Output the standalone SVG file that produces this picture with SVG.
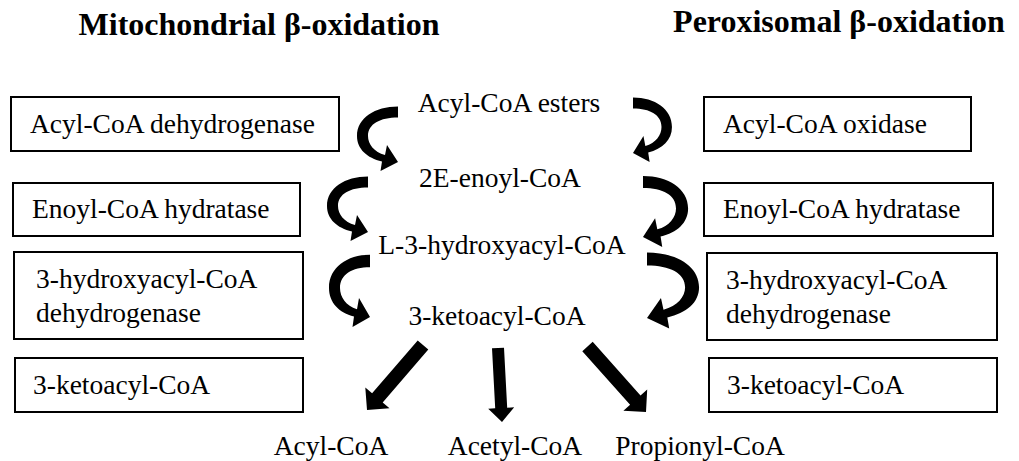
<svg xmlns="http://www.w3.org/2000/svg" xmlns:xlink="http://www.w3.org/1999/xlink" width="1019" height="461" viewBox="0 0 1019 461">
<style>
.t{font-family:"Liberation Serif","Times New Roman",serif;font-size:27.5px;fill:#000}
.c{text-anchor:middle}
.h{font-family:"Liberation Serif","Times New Roman",serif;font-size:32px;font-weight:bold;fill:#000;text-anchor:middle}
.box{fill:#fff;stroke:#000;stroke-width:2}
.ar{fill:#000}
</style>
<defs>
<path id="curl" d="M0,-5.5 C-23,-5.5 -41,6 -41,24 C-41,37 -31,46 -16,49.5 L-17.5,59 L0,50 L-11,33 L-13,43 C-24,40 -30,32 -30,24 C-30,12 -18,5.5 0,5.5 Z"/>
</defs>
<rect width="1019" height="461" fill="#fff"/>
<g id="titles">
<text class="h" x="259" y="35">Mitochondrial β-oxidation</text>
<text class="h" x="839" y="32">Peroxisomal β-oxidation</text>
</g>
<g id="left-box-1"><rect class="box" x="11" y="97" width="328" height="54"/><text class="t" x="30" y="133">Acyl-CoA dehydrogenase</text></g>
<g id="left-box-2"><rect class="box" x="13" y="183" width="287" height="53"/><text class="t" x="32" y="218">Enoyl-CoA hydratase</text></g>
<g id="left-box-3"><rect class="box" x="14" y="252" width="289" height="87"/><text class="t" x="36" y="288">3-hydroxyacyl-CoA</text><text class="t" x="36" y="322">dehydrogenase</text></g>
<g id="left-box-4"><rect class="box" x="15" y="358" width="288" height="54"/><text class="t" x="33" y="394">3-ketoacyl-CoA</text></g>
<g id="right-box-1"><rect class="box" x="704" y="97" width="267" height="54"/><text class="t" x="723" y="133">Acyl-CoA oxidase</text></g>
<g id="right-box-2"><rect class="box" x="704" y="183" width="289" height="53"/><text class="t" x="723" y="218">Enoyl-CoA hydratase</text></g>
<g id="right-box-3"><rect class="box" x="707" y="253" width="290" height="87"/><text class="t" x="726" y="289">3-hydroxyacyl-CoA</text><text class="t" x="726" y="323">dehydrogenase</text></g>
<g id="right-box-4"><rect class="box" x="709" y="358" width="288" height="54"/><text class="t" x="727" y="394">3-ketoacyl-CoA</text></g>
<g id="node-acyl-coa-esters"><text class="t c" x="509" y="112">Acyl-CoA esters</text></g>
<g id="node-2e-enoyl-coa"><text class="t c" x="500" y="187">2E-enoyl-CoA</text></g>
<g id="node-l3-hydroxyacyl-coa"><text class="t c" x="502" y="254">L-3-hydroxyacyl-CoA</text></g>
<g id="node-3-ketoacyl-coa"><text class="t c" x="497" y="325">3-ketoacyl-CoA</text></g>
<g id="node-acyl-coa"><text class="t c" x="331" y="455">Acyl-CoA</text></g>
<g id="node-acetyl-coa"><text class="t c" x="515" y="455">Acetyl-CoA</text></g>
<g id="node-propionyl-coa"><text class="t c" x="700" y="455">Propionyl-CoA</text></g>
<g id="connectors" class="ar">
<use xlink:href="#curl" href="#curl" transform="translate(398,112)"/>
<use xlink:href="#curl" href="#curl" transform="translate(368,182)"/>
<use xlink:href="#curl" href="#curl" transform="translate(370,261) scale(1,1.12)"/>
<use xlink:href="#curl" href="#curl" transform="translate(633,103) scale(-0.95,1)"/>
<use xlink:href="#curl" href="#curl" transform="translate(643,182) scale(-1.1,1.1)"/>
<use xlink:href="#curl" href="#curl" transform="translate(647,259) scale(-1.27,1.18)"/>
<polygon points="428.3,349.6 382.7,402.5 389.5,408.3 367,410 365.3,387.5 372.1,393.3 417.7,340.4"/>
<polygon points="504,347.7 507.2,407.7 514.2,407.3 502,422 488.2,408.7 495.2,408.3 492,348.3"/>
<polygon points="592.7,341.8 640.5,395.4 647.2,389.4 646,412 623.4,410.8 630.1,404.8 582.3,351.2"/>
</g>
</svg>
